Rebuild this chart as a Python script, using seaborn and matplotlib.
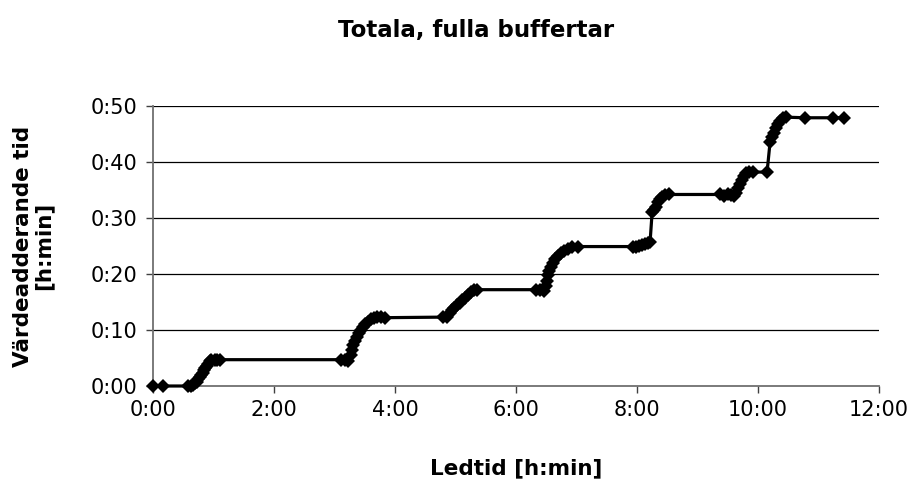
import matplotlib
matplotlib.use("Agg")
import matplotlib.pyplot as plt
import seaborn as sns
import pandas as pd
from matplotlib.ticker import FixedLocator, FuncFormatter

# Lead time (minutes) and accumulated value-adding time (minutes)
lead_time_min = [
    0, 10,
    35, 38, 40, 42, 44, 45, 47, 48, 50, 51, 52, 54, 55, 57, 58, 61, 63, 66,
    186, 190, 193, 196, 197, 198, 200, 202, 204, 206, 208, 210, 213, 216, 219, 222, 226, 230,
    288, 292, 295, 297, 299, 301, 304, 306, 309, 312, 315, 318, 321,
    380, 384, 388, 390, 391, 392, 393, 395, 397, 399, 402, 405, 408, 412, 416, 421,
    476, 479, 482, 485, 488, 491, 493, 495, 497, 499, 501, 503, 505, 508, 512,
    562, 566, 570, 573, 576, 578, 580, 582, 584, 586, 588, 591, 595,
    609, 612, 614, 616, 618, 620, 622, 625, 628, 647, 674, 685,
]
value_added_min = [
    0.0, 0.0,
    0.0, 0.0, 0.2, 0.5, 0.8, 1.2, 1.6, 2.0, 2.4, 2.8, 3.2, 3.6, 4.0, 4.4, 4.7, 4.7, 4.6, 4.7,
    4.7, 4.7, 4.5, 5.5, 6.5, 7.3, 8.0, 8.7, 9.4, 10.0, 10.6, 11.0, 11.5, 11.9, 12.2, 12.3, 12.3, 12.2,
    12.3, 12.4, 13.0, 13.5, 14.0, 14.4, 14.8, 15.3, 15.8, 16.3, 16.8, 17.1, 17.2,
    17.2, 17.2, 17.0, 17.8, 18.8, 19.8, 20.6, 21.3, 22.0, 22.6, 23.2, 23.7, 24.1, 24.5, 24.8, 24.9,
    24.9, 24.8, 25.0, 25.2, 25.3, 25.6, 25.8, 31.0, 31.5, 32.0, 32.8, 33.4, 33.8, 34.1, 34.2,
    34.2, 34.0, 34.3, 34.1, 34.0, 34.5, 35.3, 36.0, 36.8, 37.5, 38.0, 38.3, 38.2,
    38.2, 43.6, 44.5, 45.2, 46.0, 46.8, 47.4, 47.9, 48.0, 47.9, 47.9, 47.9,
]

x_ticks = [0, 120, 240, 360, 480, 600, 720]
y_ticks = [0, 10, 20, 30, 40, 50]

title = "Totala, fulla buffertar"
x_label = "Ledtid [h:min]"
y_label = "Värdeadderande tid\n[h:min]"

df = pd.DataFrame({"ledtid": lead_time_min, "varde": value_added_min})

sns.set_style("white")
plt.rcParams["font.family"] = ["DejaVu Sans"]
plt.rcParams["text.color"] = "black"

fig = plt.figure(figsize=(9.2, 4.83), dpi=100)
ax = fig.add_axes([153 / 920, 1 - 386 / 483, (879 - 153) / 920, (386 - 106) / 483])

sns.lineplot(data=df, x="ledtid", y="varde", ax=ax, color="black",
             linewidth=2.3, marker="D", markersize=7.3, markeredgewidth=0,
             estimator=None, sort=False)
for line in ax.lines:
    line.set_clip_on(False)
    line.set_zorder(3)

ax.set_xlim(0, 720)
ax.set_ylim(0, 50)


def hm(v, pos=None):
    v = int(round(v))
    return f"{v // 60}:{v % 60:02d}"


ax.xaxis.set_major_locator(FixedLocator(x_ticks))
ax.yaxis.set_major_locator(FixedLocator(y_ticks))
ax.xaxis.set_major_formatter(FuncFormatter(hm))
ax.yaxis.set_major_formatter(FuncFormatter(hm))

for yv in y_ticks[1:]:
    ax.axhline(yv, color="black", linewidth=0.9, zorder=0)

for side in ("top", "right"):
    ax.spines[side].set_visible(False)
for side in ("left", "bottom"):
    ax.spines[side].set_color("#707070")
    ax.spines[side].set_linewidth(1.3)

ax.tick_params(axis="both", which="major", direction="out", length=5,
               width=1.0, color="#404040", labelsize=15, labelcolor="black",
               bottom=True, left=True)
ax.tick_params(axis="y", pad=6)
ax.tick_params(axis="x", pad=5)

ax.set_xlabel("")
ax.set_ylabel("")
fig.text(516 / 920, 1 - 468 / 483, x_label, ha="center", va="center",
         fontsize=15.5, fontweight="bold", color="black")
fig.text(33 / 920, 1 - 246 / 483, y_label, ha="center", va="center",
         rotation=90, fontsize=15.5, fontweight="bold", linespacing=1.05,
         color="black")
fig.text(476 / 920, 1 - 31 / 483, title, ha="center", va="center",
         fontsize=16.5, fontweight="bold", color="black")

fig.savefig("out.png", dpi=100, facecolor="white")
